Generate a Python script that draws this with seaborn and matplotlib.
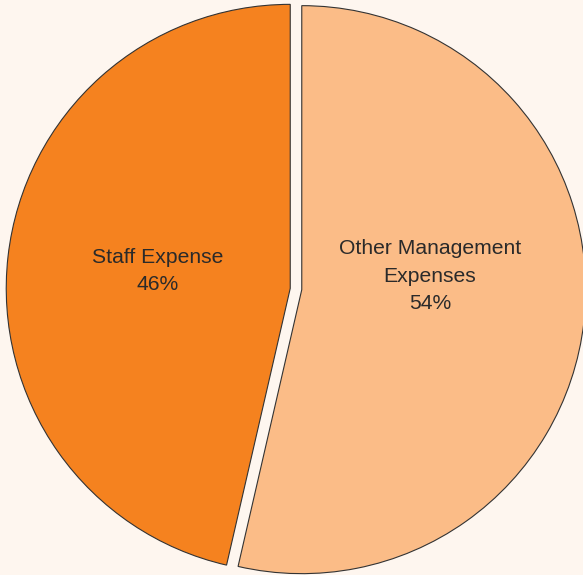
import matplotlib
matplotlib.use("Agg")
import matplotlib.pyplot as plt
import seaborn as sns
import numpy as np

# expense breakdown (labels show rounded percentages)
categories = ["Other Management\nExpenses", "Staff Expense"]
shares = [53.6, 46.4]
colors = ["#FBBC87", "#F5821F"]

sns.set_theme(style="white")
plt.rcParams['font.family'] = ['Liberation Sans', 'DejaVu Sans']

fig = plt.figure(figsize=(5.83, 5.75), dpi=100, facecolor="#FEF6EF")
ax = fig.add_axes([0, 0, 1, 1])
ax.set_facecolor("#FEF6EF")

# pie in pixel-like data units (explode is in data units too)
cx, cy, r = 296, 286, 284
wedges, _ = ax.pie(shares, colors=colors, startangle=90, counterclock=False,
                   explode=[5.8, 5.8], center=(cx, cy), radius=r,
                   wedgeprops=dict(edgecolor="#333333", linewidth=0.8),
                   frame=True)

ax.set_xlim(0, 583)
ax.set_ylim(0, 575)
ax.set_aspect("equal")
ax.axis("off")

# labels, placed a bit above each wedge's middle
label_pos = [(cx + 134, cy + 13), (cx - 138, cy + 18)]
for cat, val, (x, y) in zip(categories, shares, label_pos):
    ax.text(x, y, f"{cat}\n{val:.0f}%", ha="center", va="center",
            fontsize=15.2, color="#2a2a2a", linespacing=1.55)

fig.savefig("out.png", dpi=100, facecolor=fig.get_facecolor())
